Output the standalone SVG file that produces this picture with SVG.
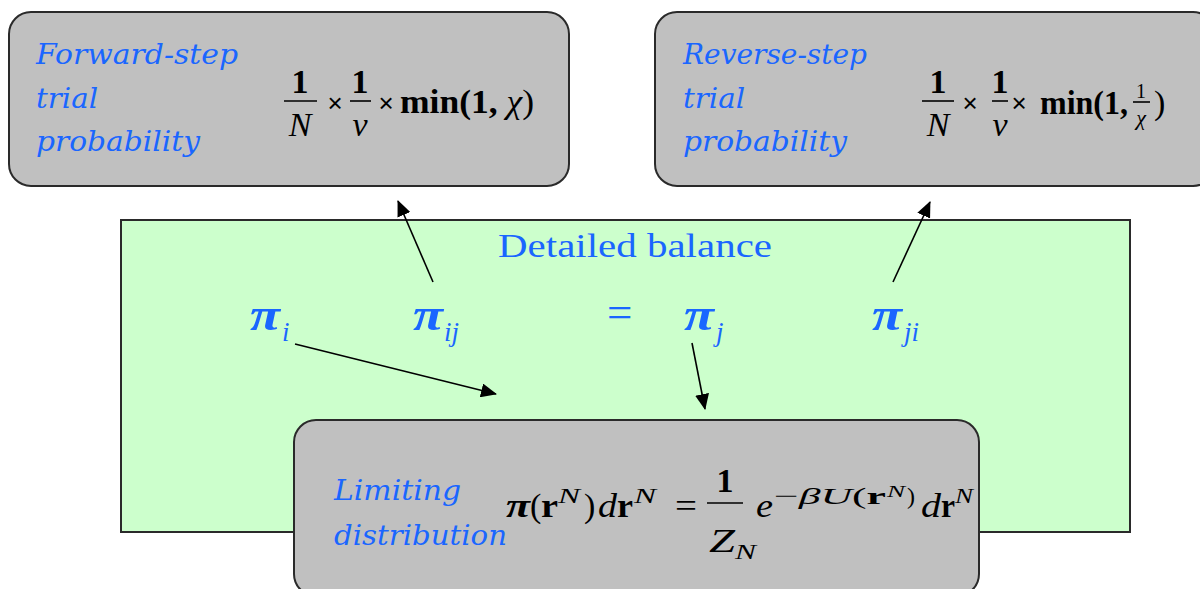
<svg xmlns="http://www.w3.org/2000/svg" width="1200" height="589" viewBox="0 0 1200 589">
<defs>
<style>
.box{fill:#c0c0c0;stroke:#2a2a2a;stroke-width:2}
.green{fill:#ccffcc;stroke:#2a2a2a;stroke-width:2}
.lbl{font-family:"DejaVu Serif",serif;font-style:italic;font-size:27px;fill:#1a66ff}
.m{font-family:"Liberation Serif","Times New Roman",serif;fill:#000}
.mb{font-weight:bold}
.mi{font-style:italic}
.bar{stroke:#000;stroke-width:1.6}
.pi{font-family:"Liberation Serif",serif;font-style:italic;font-weight:bold;font-size:46px;fill:#1a66ff}
.sub{font-family:"Liberation Serif",serif;font-style:italic;font-size:27px;fill:#1a66ff}
.conn{stroke:#000;stroke-width:1.6;fill:none}
</style>
<marker id="ahb" viewBox="0 0 16 14" refX="15" refY="7" markerWidth="16" markerHeight="14" markerUnits="userSpaceOnUse" orient="auto">
<path d="M0,0 L16,7 L0,14 z" fill="#000"/>
</marker>
</defs>

<g id="detailed-balance">
<rect class="green" x="121" y="220" width="1009" height="312"/>
<text x="498" y="257" style="font-family:'Liberation Serif',serif;font-size:34px" fill="#1a66ff" textLength="274" lengthAdjust="spacingAndGlyphs">Detailed balance</text>
<g id="pi-i"><text class="pi" x="250" y="330" textLength="30" lengthAdjust="spacingAndGlyphs">π</text><text class="sub" x="282" y="341">i</text></g>
<g id="pi-ij"><text class="pi" x="413" y="330" textLength="30" lengthAdjust="spacingAndGlyphs">π</text><text class="sub" x="444" y="341">ij</text></g>
<text x="607" y="327" style="font-family:'Liberation Serif',serif;font-size:45px" fill="#1a66ff">=</text>
<g id="pi-j"><text class="pi" x="684" y="330" textLength="30" lengthAdjust="spacingAndGlyphs">π</text><text class="sub" x="716" y="341">j</text></g>
<g id="pi-ji"><text class="pi" x="872" y="330" textLength="30" lengthAdjust="spacingAndGlyphs">π</text><text class="sub" x="904" y="341">ji</text></g>
</g>

<g id="forward-step">
<rect class="box" x="9" y="12" width="560" height="174" rx="22"/>
<text class="lbl" x="36" y="64" textLength="202" lengthAdjust="spacingAndGlyphs">Forward-step</text>
<text class="lbl" x="36" y="108" textLength="62" lengthAdjust="spacingAndGlyphs">trial</text>
<text class="lbl" x="36" y="151" textLength="164" lengthAdjust="spacingAndGlyphs">probability</text>
<g class="m" font-size="34">
<text class="mb" x="300" y="93" text-anchor="middle">1</text>
<line class="bar" x1="284" y1="101" x2="317" y2="101"/>
<text class="mi" x="300" y="136" text-anchor="middle">N</text>
<text x="335" y="112" text-anchor="middle" font-family="Liberation Sans,sans-serif" font-size="26">×</text>
<text class="mb" x="360" y="93" text-anchor="middle">1</text>
<line class="bar" x1="350" y1="101" x2="371" y2="101"/>
<text class="mi" x="360" y="136" text-anchor="middle">v</text>
<text x="386" y="112" text-anchor="middle" font-family="Liberation Sans,sans-serif" font-size="26">×</text>
<text x="400" y="113" textLength="134" lengthAdjust="spacingAndGlyphs"><tspan class="mb">min(1,</tspan> <tspan class="mi">χ</tspan>)</text>
</g>
</g>

<g id="reverse-step">
<rect class="box" x="655" y="12" width="560" height="174" rx="22"/>
<text class="lbl" x="683" y="64" textLength="184" lengthAdjust="spacingAndGlyphs">Reverse-step</text>
<text class="lbl" x="683" y="108" textLength="62" lengthAdjust="spacingAndGlyphs">trial</text>
<text class="lbl" x="683" y="151" textLength="164" lengthAdjust="spacingAndGlyphs">probability</text>
<g class="m" font-size="34">
<text class="mb" x="938" y="93" text-anchor="middle">1</text>
<line class="bar" x1="922" y1="101" x2="954" y2="101"/>
<text class="mi" x="938" y="136" text-anchor="middle">N</text>
<text x="970" y="112" text-anchor="middle" font-family="Liberation Sans,sans-serif" font-size="26">×</text>
<text class="mb" x="1000" y="93" text-anchor="middle">1</text>
<line class="bar" x1="992" y1="101" x2="1008" y2="101"/>
<text class="mi" x="1000" y="136" text-anchor="middle">v</text>
<text x="1019" y="112" text-anchor="middle" font-family="Liberation Sans,sans-serif" font-size="26">×</text>
<text class="mb" x="1040" y="114" textLength="88" lengthAdjust="spacingAndGlyphs">min(1,</text>
<text x="1141" y="98" text-anchor="middle" font-size="20">1</text>
<line class="bar" x1="1133" y1="102" x2="1150" y2="102" stroke-width="1.2"/>
<text class="mi" x="1141" y="125" text-anchor="middle" font-size="22">χ</text>
<text x="1154" y="114" font-size="34">)</text>
</g>
</g>

<g id="limiting-distribution">
<rect class="box" x="294" y="420" width="685" height="176" rx="22"/>
<text class="lbl" x="334" y="500" textLength="127" lengthAdjust="spacingAndGlyphs">Limiting</text>
<text class="lbl" x="334" y="545" textLength="173" lengthAdjust="spacingAndGlyphs">distribution</text>
<g class="m" font-size="34">
<text class="mi mb" x="506" y="517" textLength="24" lengthAdjust="spacingAndGlyphs">π</text>
<text x="530" y="517">(</text>
<text class="mb" x="541" y="517" textLength="17" lengthAdjust="spacingAndGlyphs">r</text>
<text class="mi" x="558" y="503" font-size="22" textLength="22" lengthAdjust="spacingAndGlyphs">N</text>
<text x="584" y="517">)</text>
<text class="mi" x="598" y="517" textLength="19" lengthAdjust="spacingAndGlyphs">d</text>
<text class="mb" x="617" y="517" textLength="16" lengthAdjust="spacingAndGlyphs">r</text>
<text class="mi" x="634" y="503" font-size="22" textLength="22" lengthAdjust="spacingAndGlyphs">N</text>
<text x="675" y="517" textLength="22" lengthAdjust="spacingAndGlyphs">=</text>
<text class="mb" x="725" y="492" text-anchor="middle">1</text>
<line class="bar" x1="707" y1="503" x2="743" y2="503"/>
<text class="mi" x="709" y="552" textLength="26" lengthAdjust="spacingAndGlyphs">Z</text>
<text class="mi" x="735" y="559" font-size="22" textLength="21" lengthAdjust="spacingAndGlyphs">N</text>
<text class="mi" x="756" y="517" textLength="17" lengthAdjust="spacingAndGlyphs">e</text>
<text x="774" y="504" font-size="24" textLength="112" lengthAdjust="spacingAndGlyphs">−<tspan class="mi">βU</tspan>(<tspan class="mb">r</tspan></text>
<text class="mi" x="887" y="497" font-size="17" textLength="18" lengthAdjust="spacingAndGlyphs">N</text>
<text x="907" y="504" font-size="24">)</text>
<text class="mi" x="921" y="517" textLength="20" lengthAdjust="spacingAndGlyphs">d</text>
<text class="mb" x="941" y="517" textLength="14" lengthAdjust="spacingAndGlyphs">r</text>
<text class="mi" x="955" y="503" font-size="22" textLength="18" lengthAdjust="spacingAndGlyphs">N</text>
</g>
</g>

<g id="connectors">
<line class="conn" x1="433" y1="282" x2="398" y2="201" marker-end="url(#ahb)"/>
<line class="conn" x1="893" y1="282" x2="930" y2="202" marker-end="url(#ahb)"/>
<line class="conn" x1="295" y1="344" x2="496" y2="394" marker-end="url(#ahb)"/>
<line class="conn" x1="692" y1="343" x2="705" y2="409" marker-end="url(#ahb)"/>
</g>
</svg>
